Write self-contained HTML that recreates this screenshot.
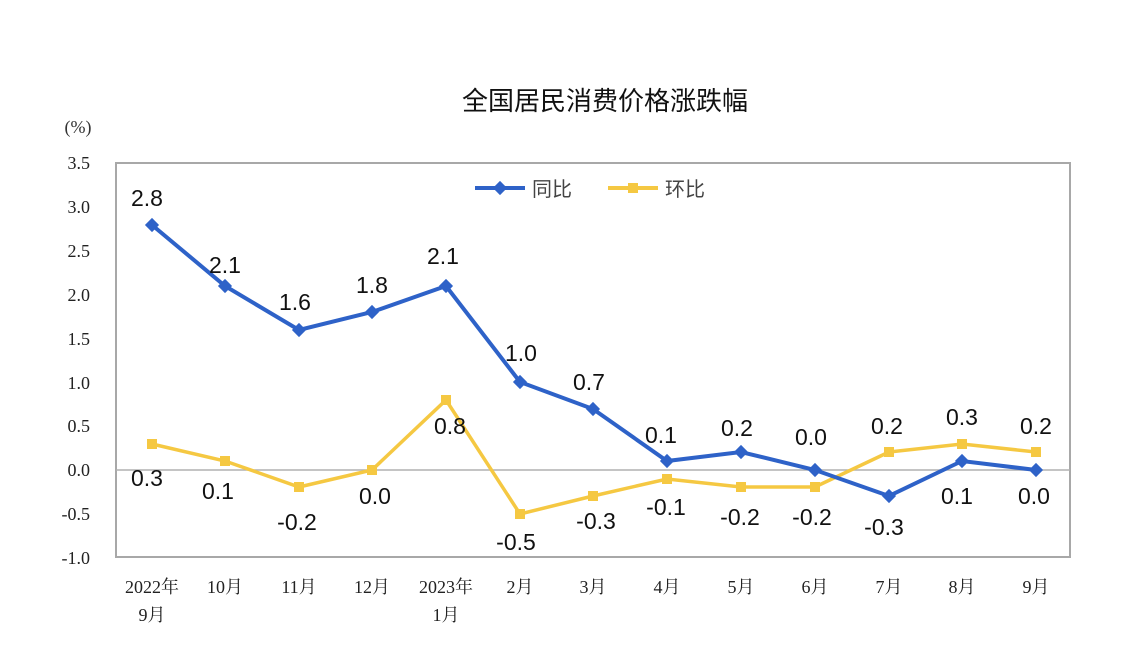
<!DOCTYPE html><html><head><meta charset="utf-8"><style>body{margin:0;background:#fff}svg{display:block}</style></head><body>
<svg width="1144" height="672" xmlns="http://www.w3.org/2000/svg" font-family="Liberation Sans, Noto Sans CJK SC, sans-serif">
<text x="605" y="110" font-size="26" text-anchor="middle" fill="#111">全国居民消费价格涨跌幅</text>
<text x="78" y="133" font-size="18" text-anchor="middle" fill="#333" font-family="Liberation Serif, serif">(%)</text>
<rect x="116" y="163" width="954" height="394" fill="none" stroke="#a8a8a8" stroke-width="2"/>
<line x1="116" y1="470" x2="1070" y2="470" stroke="#b0b0b0" stroke-width="1.5"/>
<g font-size="18" fill="#222" text-anchor="end" font-family="Liberation Serif, serif">
<text x="90" y="169">3.5</text><text x="90" y="213">3.0</text><text x="90" y="257">2.5</text><text x="90" y="301">2.0</text><text x="90" y="345">1.5</text><text x="90" y="389">1.0</text><text x="90" y="432">0.5</text><text x="90" y="476">0.0</text><text x="90" y="520">-0.5</text><text x="90" y="564">-1.0</text>
</g>
<g font-size="18" fill="#222" text-anchor="middle" font-family="Liberation Serif, Noto Serif CJK SC, serif">
<text x="152" y="593">2022年</text><text x="152" y="621">9月</text>
<text x="225" y="593">10月</text><text x="299" y="593">11月</text><text x="372" y="593">12月</text>
<text x="446" y="593">2023年</text><text x="446" y="621">1月</text>
<text x="520" y="593">2月</text><text x="593" y="593">3月</text><text x="667" y="593">4月</text><text x="741" y="593">5月</text><text x="815" y="593">6月</text><text x="889" y="593">7月</text><text x="962" y="593">8月</text><text x="1036" y="593">9月</text>
</g>
<g>
<line x1="475" y1="188" x2="525" y2="188" stroke="#2e62c8" stroke-width="4"/><rect x="495" y="183" width="10" height="10" transform="rotate(45 500 188)" fill="#2e62c8"/>
<text x="532" y="196" font-size="20" fill="#444">同比</text>
<line x1="608" y1="188" x2="658" y2="188" stroke="#f5c842" stroke-width="4"/><rect x="628" y="183" width="10" height="10" fill="#f5c842"/>
<text x="665" y="196" font-size="20" fill="#444">环比</text>
</g>
<polyline fill="none" stroke="#f5c842" stroke-width="3.5" points="152,444 225,461 299,487 372,470 446,400 520,514 593,496 667,479 741,487 815,487 889,452 962,444 1036,452"/>
<g fill="#f5c842">
<rect x="147" y="439" width="10" height="10"/><rect x="220" y="456" width="10" height="10"/><rect x="294" y="482" width="10" height="10"/><rect x="367" y="465" width="10" height="10"/><rect x="441" y="395" width="10" height="10"/><rect x="515" y="509" width="10" height="10"/><rect x="588" y="491" width="10" height="10"/><rect x="662" y="474" width="10" height="10"/><rect x="736" y="482" width="10" height="10"/><rect x="810" y="482" width="10" height="10"/><rect x="884" y="447" width="10" height="10"/><rect x="957" y="439" width="10" height="10"/><rect x="1031" y="447" width="10" height="10"/>
</g>
<polyline fill="none" stroke="#2e62c8" stroke-width="4" points="152,225 225,286 299,330 372,312 446,286 520,382 593,409 667,461 741,452 815,470 889,496 962,461 1036,470"/>
<g fill="#2e62c8">
<g transform="translate(152,225) rotate(45)"><rect x="-5" y="-5" width="10" height="10"/></g>
<g transform="translate(225,286) rotate(45)"><rect x="-5" y="-5" width="10" height="10"/></g>
<g transform="translate(299,330) rotate(45)"><rect x="-5" y="-5" width="10" height="10"/></g>
<g transform="translate(372,312) rotate(45)"><rect x="-5" y="-5" width="10" height="10"/></g>
<g transform="translate(446,286) rotate(45)"><rect x="-5" y="-5" width="10" height="10"/></g>
<g transform="translate(520,382) rotate(45)"><rect x="-5" y="-5" width="10" height="10"/></g>
<g transform="translate(593,409) rotate(45)"><rect x="-5" y="-5" width="10" height="10"/></g>
<g transform="translate(667,461) rotate(45)"><rect x="-5" y="-5" width="10" height="10"/></g>
<g transform="translate(741,452) rotate(45)"><rect x="-5" y="-5" width="10" height="10"/></g>
<g transform="translate(815,470) rotate(45)"><rect x="-5" y="-5" width="10" height="10"/></g>
<g transform="translate(889,496) rotate(45)"><rect x="-5" y="-5" width="10" height="10"/></g>
<g transform="translate(962,461) rotate(45)"><rect x="-5" y="-5" width="10" height="10"/></g>
<g transform="translate(1036,470) rotate(45)"><rect x="-5" y="-5" width="10" height="10"/></g>
</g>
<g font-size="23" fill="#111" text-anchor="middle">
<text x="147" y="206">2.8</text><text x="225" y="273">2.1</text><text x="295" y="310">1.6</text><text x="372" y="293">1.8</text><text x="443" y="264">2.1</text><text x="521" y="361">1.0</text><text x="589" y="390">0.7</text><text x="661" y="443">0.1</text><text x="737" y="436">0.2</text><text x="811" y="445">0.0</text><text x="884" y="535">-0.3</text><text x="957" y="504">0.1</text><text x="1034" y="504">0.0</text>
<text x="147" y="486">0.3</text><text x="218" y="499">0.1</text><text x="297" y="530">-0.2</text><text x="375" y="504">0.0</text><text x="450" y="434">0.8</text><text x="516" y="550">-0.5</text><text x="596" y="529">-0.3</text><text x="666" y="515">-0.1</text><text x="740" y="525">-0.2</text><text x="812" y="525">-0.2</text><text x="887" y="434">0.2</text><text x="962" y="425">0.3</text><text x="1036" y="434">0.2</text>
</g>
</svg></body></html>
